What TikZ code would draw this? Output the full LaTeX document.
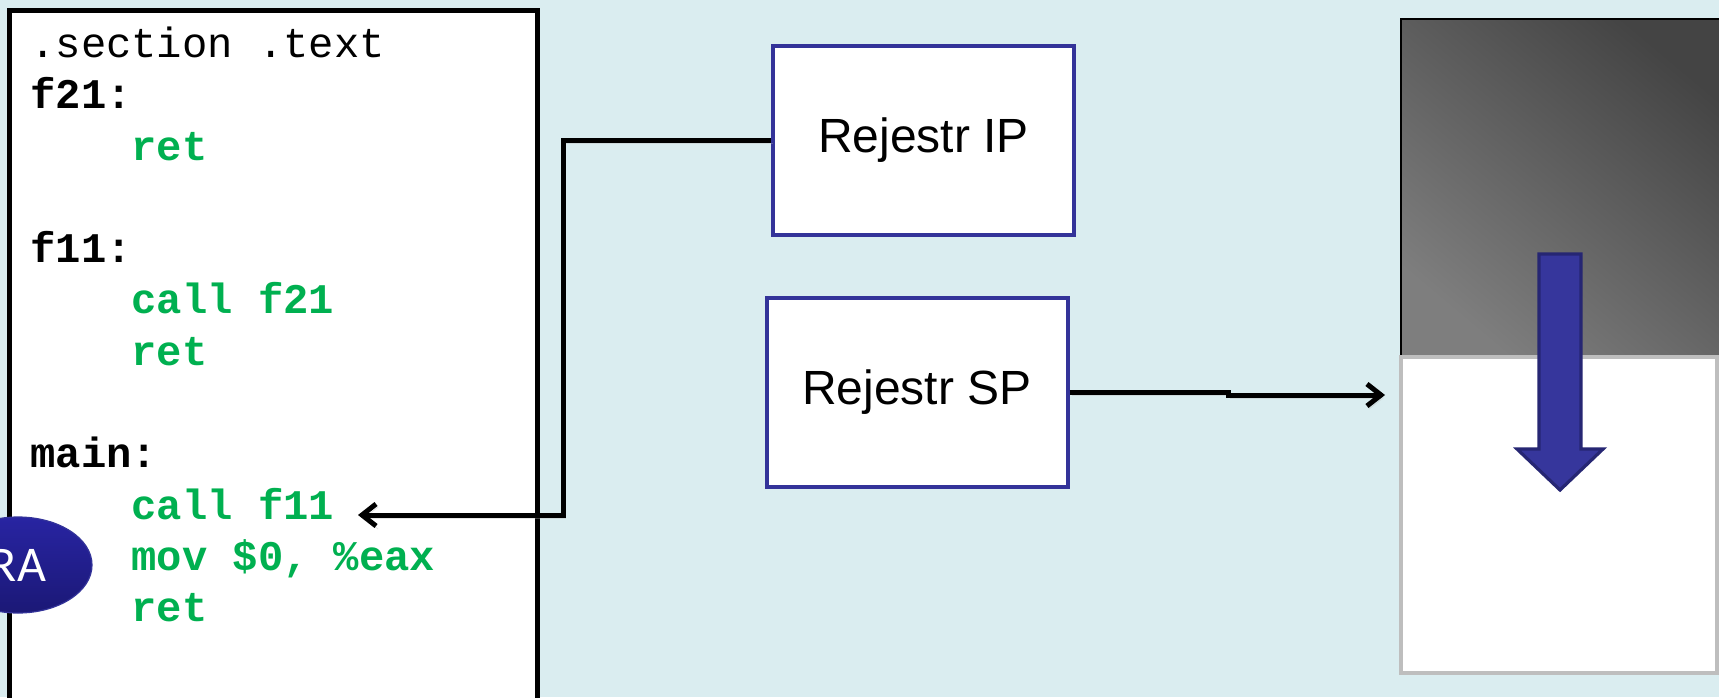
\documentclass[tikz,border=0pt]{standalone}
\usepackage{fontspec}
\setmainfont{Liberation Sans}
\newfontfamily\codefont{Liberation Mono}
\newfontfamily\rafont{Carlito}
\usetikzlibrary{arrows.meta,shapes.geometric,positioning}
\definecolor{bgblue}{RGB}{218,237,240}
\definecolor{codegreen}{RGB}{0,176,80}
\definecolor{regblue}{RGB}{51,51,153}
\definecolor{arrowfill}{RGB}{54,54,156}
\definecolor{arrowedge}{RGB}{38,38,115}
\definecolor{stackdark}{RGB}{68,68,68}
\definecolor{stacklight}{RGB}{126,126,126}
\definecolor{stackedge}{RGB}{190,190,190}

\begin{document}
\begin{tikzpicture}
        [x=0.5pt,y=-0.5pt,
         lbl/.style={anchor=base west,inner sep=0,font=\codefont\bfseries\fontsize{21.1}{25}\selectfont},
         ins/.style={lbl,text=codegreen},
         reg/.style={rectangle,draw=regblue,line width=2pt,fill=white,inner sep=0,
                     minimum width=150.5pt,minimum height=94.5pt,font=\fontsize{24}{28}\selectfont},
         link/.style={line width=2.5pt,-{Straight Barb[length=7pt,width=11pt]},
                      preaction={draw=black!30,opacity=0.35,transform canvas={xshift=1pt,yshift=-1.5pt}}}]
        \clip (0,0) rectangle (1719,697);
        \fill[bgblue] (0,0) rectangle (1719,697);

        % code listing
        \draw[line width=2.5pt,fill=white] (9.5,10) rectangle (537.5,730);
        \node[lbl,font=\codefont\fontsize{21.1}{25}\selectfont] (sec) at (30,57) {.section .text};
        \node[lbl]  (f21)     at (30,108)     {f21:};
        \node[ins]  (ret21)   at (131,160)    {ret};
        \node[lbl]  (f11)     at (30,262)     {f11:};
        \node[ins]  (call21)  at (131,313)    {call f21};
        \node[ins]  (ret11)   at (131,365)    {ret};
        \node[lbl]  (main)    at (30,467)     {main:};
        \node[ins]  (call11)  at (131,519)    {call f11};
        \node[ins]  (mov)     at (131,570)    {mov \$0, \%eax};
        \node[ins]  (retmain) at (131,621)    {ret};

        % return address
        \node[ellipse,draw=regblue,line width=0.6pt,top color={rgb,255:red,40;green,36;blue,162},
              bottom color={rgb,255:red,27;green,24;blue,118},minimum width=74pt,minimum height=48pt,
              inner sep=0,text=white,font=\rafont\fontsize{25}{30}\selectfont] (ra) at (18,565) {RA};

        % registers
        \node[reg]  (ip)      at (923.5,140)  {Rejestr IP};
        \node[reg]  (sp)      at (917,392)    {Rejestr SP};

        \coordinate (callTip) at (358,515);
        \coordinate (spTip)   at (1385,395);
        \draw[link] (ip.west) -- ++(-208,0) |- (callTip);
        \draw[link] (sp.east) -- ++(159,0) -- ++(0,3) -- (spTip);

        % stack
        \shade[top color=stackdark,bottom color=stacklight,shading angle=-40]
              (1401,19) rectangle (1730,357);
        \draw[line width=0.6pt] (1401,357) -- (1401,19) -- (1730,19);
        \draw[draw=stackedge,line width=1.6pt,fill=white] (1401,357) rectangle (1717,673);

        % growth direction
        \draw[fill=arrowfill,draw=arrowedge,line width=1.6pt]
              (1539,254) -- (1581,254) -- (1581,449) -- (1603,449) -- (1560,490)
              -- (1517,449) -- (1539,449) -- cycle;
\end{tikzpicture}
\end{document}
